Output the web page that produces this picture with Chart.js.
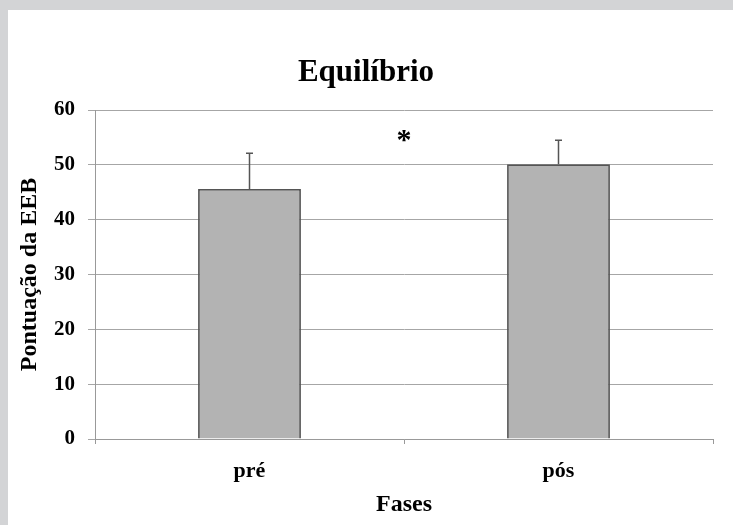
<!DOCTYPE html>
<html>
<head>
<meta charset="utf-8">
<script src="https://cdn.jsdelivr.net/npm/chart.js@4/dist/chart.umd.min.js"></script>
<style>
  html, body { margin: 0; padding: 0; }
  body { width: 733px; height: 525px; background: #d3d4d6; position: relative; overflow: hidden; }
  #box { position: absolute; left: 8px; top: 10px; width: 725px; height: 515px; background: #fff; }
</style>
</head>
<body>
<div id="box"><canvas id="myChart" width="725" height="515"></canvas></div>
<script>
const fases = ['pré', 'pós'];
const scores = [45.6, 50.1];
const errors = [6.5, 4.4];
const sigMark = '*';
const yTicks = [0, 10, 20, 30, 40, 50, 60];

const serif = "'Liberation Serif', 'Times New Roman', serif";

// barras de erro (só para cima) e o asterisco entre as fases
const errorBars = {
  id: 'errorBars',
  afterDatasetsDraw(chart) {
    const ctx = chart.ctx;
    const meta = chart.getDatasetMeta(0);
    const yScale = chart.scales.y;
    const xScale = chart.scales.x;
    let topMost = Infinity;

    ctx.save();
    ctx.strokeStyle = '#555';
    ctx.lineWidth = 1.5;
    meta.data.forEach((bar, i) => {
      const top = yScale.getPixelForValue(scores[i] + errors[i]);
      topMost = Math.min(topMost, top);
      ctx.beginPath();
      ctx.moveTo(bar.x, bar.y);
      ctx.lineTo(bar.x, top);
      ctx.moveTo(bar.x - 3.5, top);
      ctx.lineTo(bar.x + 3.5, top);
      ctx.stroke();
    });

    const mid = (xScale.getPixelForValue(0) + xScale.getPixelForValue(1)) / 2;
    ctx.fillStyle = '#000';
    ctx.font = 'bold 30px ' + serif;
    ctx.textAlign = 'center';
    ctx.textBaseline = 'alphabetic';
    ctx.fillText(sigMark, mid, topMost + 9);
    ctx.restore();
  }
};

const ctx = document.getElementById('myChart').getContext('2d');
const chart = new Chart(ctx, {
  type: 'bar',
  data: {
    labels: fases,
    datasets: [{
      data: scores,
      backgroundColor: '#b3b3b3',
      borderColor: '#555',
      borderWidth: 1.8,
      barPercentage: 0.333,
      categoryPercentage: 1
    }]
  },
  options: {
    responsive: false,
    animation: false,
    layout: { padding: { left: 11, right: 20, top: 0, bottom: 0 } },
    plugins: {
      legend: { display: false },
      tooltip: { enabled: false },
      title: {
        display: true,
        text: 'Equilíbrio',
        color: '#000',
        font: { family: serif, size: 31, weight: 'bold', lineHeight: 1.2 },
        padding: { top: 44, bottom: 18.8 }
      }
    },
    scales: {
      x: {
        afterFit(scale) { scale.height = 86; },
        grid: { drawOnChartArea: false, offset: true, tickLength: 5, color: '#999' },
        border: { color: '#999' },
        ticks: { color: '#000', padding: 14, font: { family: serif, size: 22, weight: 'bold' } },
        title: {
          display: true,
          text: 'Fases',
          color: '#000',
          font: { family: serif, size: 24, weight: 'bold', lineHeight: 1.2 },
          padding: { top: 0, bottom: 6 }
        }
      },
      y: {
        min: 0,
        max: 60,
        afterFit(scale) { scale.width = 76; },
        afterBuildTicks(scale) { scale.ticks = yTicks.map(v => ({ value: v })); },
        grid: { color: '#a6a6a6', tickLength: 7 },
        border: { color: '#999' },
        ticks: { color: '#000', padding: 13, font: { family: serif, size: 21, weight: 'bold' } },
        title: {
          display: true,
          text: 'Pontuação da EEB',
          color: '#000',
          font: { family: serif, size: 24, weight: 'bold', lineHeight: 0.8 },
          padding: { top: 1, bottom: 0 }
        }
      }
    }
  },
  plugins: [errorBars]
});
</script>
</body>
</html>
